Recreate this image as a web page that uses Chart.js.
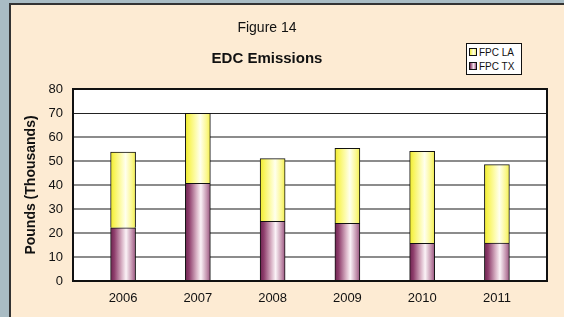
<!DOCTYPE html>
<html>
<head>
<meta charset="utf-8">
<script src="https://cdn.jsdelivr.net/npm/chart.js@4/dist/chart.umd.min.js"></script>
<style>
  html, body { margin: 0; padding: 0; overflow: hidden; }
  body { width: 564px; height: 317px; background: #a9bcc4; position: relative; font-family: "Liberation Sans", Arial, sans-serif; }
  #panel { position: absolute; left: 9px; top: 3px; width: 553px; height: 312px; background: #fdebd3; border-left: 2px solid #333; border-top: 2px solid #333; }
  #c { position: absolute; left: 0; top: 0; }
  .t { position: absolute; color: #111; white-space: nowrap; transform: translate(-50%, -50%); }
  #t1 { left: 267px; top: 27px; font-size: 14px; }
  #t2 { left: 267px; top: 57px; font-size: 15px; font-weight: bold; }
  #legend { position: absolute; left: 466px; top: 43px; width: 54px; height: 30px; background: #fff; border: 1px solid #111; font-size: 10px; color: #111; }
  .li { position: absolute; left: 2px; height: 12px; line-height: 12px; }
  .sw { display: inline-block; width: 6px; height: 6px; border: 1px solid #111; vertical-align: middle; margin-right: 2px; position: relative; top: -1px; }
</style>
</head>
<body>
<div id="panel"></div>
<canvas id="c" width="564" height="317"></canvas>
<div class="t" id="t1">Figure 14</div>
<div class="t" id="t2">EDC Emissions</div>
<div id="legend">
  <div class="li" style="top:3px"><span class="sw" style="background:linear-gradient(90deg,#f2ee40,#ffffe8 60%,#f5f070)"></span>FPC LA</div>
  <div class="li" style="top:17px"><span class="sw" style="background:linear-gradient(90deg,#7a2a58,#f5e8ee 60%,#a05a85)"></span>FPC TX</div>
</div>
<script>
const years = [2006, 2007, 2008, 2009, 2010, 2011];
const fpcTX = [22.2, 40.7, 24.9, 24.0, 15.7, 15.8];
const fpcLA = [31.5, 29.2, 26.1, 31.3, 38.3, 32.7];
const yTicks = [0, 10, 20, 30, 40, 50, 60, 70, 80];

const BAR_W = 25;

function gradFill(stops) {
  return function (ctx) {
    const chart = ctx.chart;
    const xs = chart.scales && chart.scales.x;
    if (!xs || ctx.dataIndex === undefined || !isFinite(xs.getPixelForValue(years[ctx.dataIndex]))) return stops[0][1];
    const cx = xs.getPixelForValue(years[ctx.dataIndex]);
    const g = chart.ctx.createLinearGradient(cx - BAR_W / 2, 0, cx + BAR_W / 2, 0);
    stops.forEach(s => g.addColorStop(s[0], s[1]));
    return g;
  };
}

const purpleStops = [[0, '#6e2450'], [0.15, '#8e3e6c'], [0.45, '#d9b3c6'], [0.62, '#fbf3f7'], [0.85, '#c596b0'], [1, '#9a5580']];
const yellowStops = [[0, '#eeea30'], [0.15, '#f8f45a'], [0.42, '#fdfcb0'], [0.6, '#ffffee'], [0.85, '#fbf890'], [1, '#f3ef50']];

const plotBg = {
  id: 'plotBg',
  beforeDraw(chart) {
    const a = chart.chartArea, c = chart.ctx;
    c.save(); c.fillStyle = '#ffffff'; c.fillRect(a.left, a.top, a.right - a.left, a.bottom - a.top); c.restore();
  },
  afterDatasetsDraw(chart) {
    const a = chart.chartArea, c = chart.ctx;
    c.save(); c.strokeStyle = '#111'; c.lineWidth = 2;
    c.strokeRect(a.left, a.top, a.right - a.left, a.bottom - a.top); c.restore();
  }
};

new Chart(document.getElementById('c'), {
  type: 'bar',
  data: {
    datasets: [
      { label: 'FPC TX', data: years.map((y, i) => ({ x: y, y: fpcTX[i] })), backgroundColor: gradFill(purpleStops), borderColor: '#111', borderWidth: 1, barThickness: BAR_W },
      { label: 'FPC LA', data: years.map((y, i) => ({ x: y, y: fpcLA[i] })), backgroundColor: gradFill(yellowStops), borderColor: '#111', borderWidth: 1, barThickness: BAR_W }
    ]
  },
  options: {
    responsive: false,
    animation: false,
    layout: { padding: { left: 0, right: 17, top: 89, bottom: 0 } },
    plugins: { legend: { display: false }, tooltip: { enabled: false }, title: { display: false } },
    scales: {
      x: {
        type: 'linear', stacked: true, offset: false, min: 2005.33, max: 2011.67,
        afterBuildTicks: s => { s.ticks = years.map(v => ({ value: v })); },
        afterFit: s => { s.height = 36; },
        grid: { display: false, drawTicks: false, offset: false },
        border: { display: false },
        ticks: { padding: 10, color: '#111', font: { family: 'Liberation Sans', size: 13 }, callback: v => String(v), maxRotation: 0, autoSkip: false }
      },
      y: {
        stacked: true, min: 0, max: 80,
        afterBuildTicks: s => { s.ticks = yTicks.map(v => ({ value: v })); },
        afterFit: s => { s.width = 73; },
        grid: {
          color: c => (c.tick && c.tick.value === 70) ? '#222' : '#8c8c8c',
          lineWidth: c => (c.tick && c.tick.value === 70) ? 1 : 2,
          drawTicks: false
        },
        border: { display: false },
        ticks: { padding: 10, color: '#111', font: { family: 'Liberation Sans', size: 13 } },
        title: { display: true, text: 'Pounds (Thousands)', color: '#111', font: { family: 'Liberation Sans', size: 14, weight: 'bold' }, padding: { top: 23, bottom: 0 } }
      }
    }
  },
  plugins: [plotBg]
});
</script>
</body>
</html>
